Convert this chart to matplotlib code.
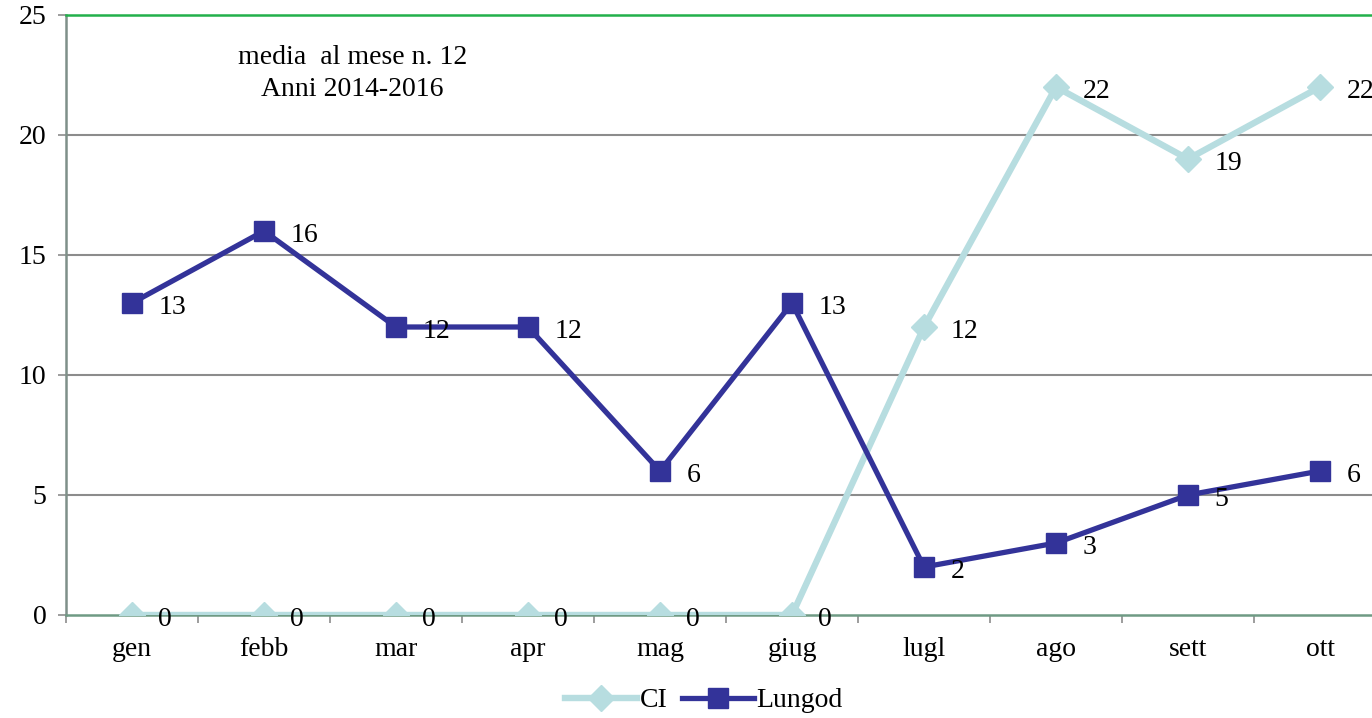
import matplotlib.pyplot as plt
import numpy as np

months = ["gen", "febb", "mar", "apr", "mag", "giug", "lugl", "ago", "sett", "ott"]
ci = [0, 0, 0, 0, 0, 0, 12, 22, 19, 22]
lungod = [13, 16, 12, 12, 6, 13, 2, 3, 5, 6]

plt.rcParams["font.family"] = ["Liberation Serif", "DejaVu Serif"]

fig = plt.figure(figsize=(13.72, 7.18), dpi=100)
ax = fig.add_axes([66 / 1372, 103 / 718, 1320 / 1372, 600 / 718])

x = np.arange(len(months))
ax.plot(x, ci, color="#b7dde0", lw=4.6, marker="D", ms=13, label="CI", zorder=3)
ax.plot(x, lungod, color="#333399", lw=3.8, marker="s", ms=15, label="Lungod", zorder=4)

for xi, v in zip(x, ci):
    ax.annotate(str(v), (xi, v), xytext=(19, -3), textcoords="offset points",
                ha="left", va="center", fontsize=20, zorder=5)
for xi, v in zip(x, lungod):
    ax.annotate(str(v), (xi, v), xytext=(19, -3), textcoords="offset points",
                ha="left", va="center", fontsize=20, zorder=5)

ax.set_xlim(-0.5, len(months) - 0.5)
ax.set_ylim(0, 25)
ax.set_yticks([0, 5, 10, 15, 20, 25])
ax.set_xticks(x)
ax.set_xticklabels(months)
ax.set_xticks(np.arange(-0.5, len(months)), minor=True)
ax.tick_params(axis="x", which="major", length=0, pad=16, labelsize=20)
ax.tick_params(axis="x", which="minor", length=6, color="#8c8c8c", width=1.2)
ax.tick_params(axis="y", length=6, color="#8c8c8c", width=1.2, pad=8, labelsize=20)

for yv in [5, 10, 15, 20]:
    ax.axhline(yv, color="#8c8c8c", lw=1.5, zorder=1)
ax.spines["right"].set_visible(False)
ax.spines["top"].set_color("#22b04b")
ax.spines["top"].set_linewidth(1.8)
ax.spines["left"].set_color("#7f9089")
ax.spines["left"].set_linewidth(1.8)
ax.spines["bottom"].set_color("#6f9a84")
ax.spines["bottom"].set_linewidth(1.8)

ax.text(0.217, 0.902, "media  al mese n. 12\nAnni 2014-2016", transform=ax.transAxes,
        ha="center", va="center", fontsize=20, linespacing=1.35)

fig.legend(loc="center", bbox_to_anchor=(0.513, 0.024), ncol=2, frameon=False,
           fontsize=20, handlelength=2.6, columnspacing=0.5, handletextpad=0.1)

fig.savefig("out.png", dpi=100)
